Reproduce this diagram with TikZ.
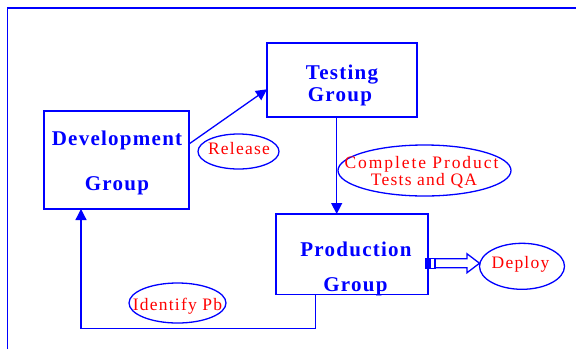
\documentclass[tikz,border=0pt]{standalone}
\usepackage{fontspec}
\setmainfont{Liberation Serif}
\usetikzlibrary{arrows.meta,calc,shapes.geometric}

\tikzset{
  grp/.style={draw=blue, line width=1.4pt, rectangle, inner sep=0pt, outer sep=0pt},
  tag/.style={draw=blue, line width=1.3pt, ellipse, inner sep=0pt, outer sep=0pt},
  grptext/.style={anchor=base, inner sep=0pt, text=blue,
    font=\fontsize{21}{25}\selectfont\bfseries\addfontfeature{LetterSpace=6}},
  tagtext/.style={anchor=base, inner sep=0pt, text=red,
    font=\fontsize{17.5}{21}\selectfont\addfontfeature{LetterSpace=7}},
  flow/.style={draw=blue, line width=1.3pt, -{Triangle[length=11pt,width=11pt]}},
}

\begin{document}
\begin{tikzpicture}[x=1pt, y=-1pt]
  \useasboundingbox (0,0) rectangle (576,349);

  % outer frame
  \draw[blue, line width=1.6pt] (7.3,349) -- (7.3,8) -- (576,8);

  % groups
  \node[grp, minimum width=145pt, minimum height=98pt]   (dev)  at (116.5,160)  {};
  \node[grp, minimum width=150pt, minimum height=74pt]   (test) at (342,80)     {};
  \node[grp, minimum width=152pt, minimum height=80.5pt] (prod) at (352,254.25) {};

  \node[grptext] (devA)  at (117,145.5) {Development};
  \node[grptext] (devB)  at (117,190)   {Group};
  \node[grptext] (testA) at (342,79.3)  {Testing};
  \node[grptext] (testB) at (340,101.5) {Group};
  \node[grptext] (prodA) at (356,256)   {Production};
  \node[grptext] (prodB) at (355.5,291.5) {Group};

  % transition labels
  \node[tag, minimum width=81pt,  minimum height=35pt] (rel) at (238.5,151.5) {};
  \node[tag, minimum width=173pt, minimum height=51pt] (cpt) at (424.5,170.5) {};
  \node[tag, minimum width=97pt,  minimum height=40pt] (idp) at (177.5,303)   {};
  \node[tag, minimum width=85pt,  minimum height=46pt] (dep) at (522,266.3)   {};

  \node[tagtext] (relT)  at (239,154.3) {Release};
  \node[tagtext, font=\fontsize{17.5}{21}\selectfont\addfontfeature{LetterSpace=11}] (cptA) at (421.5,168.3) {Complete Product};
  \node[tagtext] (cptB)  at (424,185)   {Tests and QA};
  \node[tagtext] (idpT)  at (177.5,310.7) {Identify Pb};
  \node[tagtext] (depT)  at (520.5,268.3) {Deploy};

  % flows
  \draw[flow] ($(dev.east)+(0,-16)$) -- ($(test.west)+(0,9.3)$);

  \coordinate (down) at ($(test.south)+(-5.3,0)$);
  \draw[flow] (down) -- (down |- prod.north);

  \coordinate (back) at ($(prod.south)+(-36.7,0)$);
  \coordinate (corner) at ($(dev.south)+(-35.5,0)$);
  \coordinate (low) at (corner |- 0,328.3);
  \draw[flow] (back) |- (low) -- (corner);

  % hollow block arrow towards deployment
  \coordinate (da) at ($(prod.east)+(0,9)$);
  \coordinate (tip) at (dep.west |- da);
  \draw[blue, line width=1.3pt, line join=miter]
    let \p1=(da), \p2=(tip) in
      (\x1+7pt,\y1+4.5pt) -- (\x2-12.5pt,\y1+4.5pt) -- (\x2-12.5pt,\y1+9.5pt)
      -- (\p2) -- (\x2-12.5pt,\y1-9.5pt) -- (\x2-12.5pt,\y1-4.5pt)
      -- (\x1+7pt,\y1-4.5pt) -- cycle;
  \draw[blue, line width=1.1pt]
    let \p1=(da) in (\x1-2pt,\y1-5pt) rectangle (\x1+7pt,\y1+5pt);
  \fill[blue]
    let \p1=(da) in (\x1-2pt,\y1-5pt) rectangle (\x1+2.5pt,\y1+5pt);
\end{tikzpicture}
\end{document}
